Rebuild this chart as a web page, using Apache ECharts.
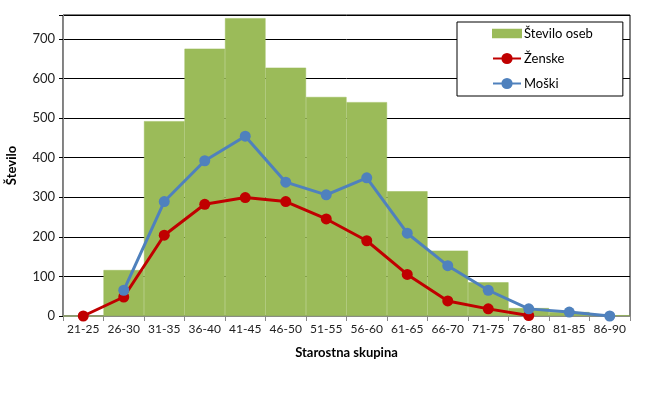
<!DOCTYPE html>
<html>
<head>
<meta charset="utf-8">
<script src="https://cdn.jsdelivr.net/npm/echarts@6/dist/echarts.min.js"></script>
<style>
  html, body { margin: 0; padding: 0; background: #fff; }
  #chart { width: 645px; height: 397px; }
</style>
</head>
<body>
<div id="chart"></div>
<script>
const categories = ["21-25", "26-30", "31-35", "36-40", "41-45", "46-50", "51-55",
  "56-60", "61-65", "66-70", "71-75", "76-80", "81-85", "86-90"];
const steviloOseb = [0, 116, 492, 675, 752, 627, 553, 540, 315, 165, 85, 20, 10, 2];
const zenske = [0, 48, 204, 282, 299, 289, 245, 190, 105, 38, 18, 1, "-", "-"];
const moski = ["-", 65, 289, 392, 454, 338, 306, 349, 209, 127, 65, 18, 10, 0];

const chart = echarts.init(document.getElementById("chart"));
const font = "Lato";

const option = {
  animation: false,
  textStyle: { fontFamily: font },
  grid: {
    left: 63,
    right: 15,
    top: 15,
    bottom: 81,
    outerBoundsMode: "none",
    show: true,
    borderColor: "#000",
    borderWidth: 1,
  },
  legend: {
    orient: "vertical",
    left: 457,
    top: 22,
    padding: [5, 30, 6, 35],
    itemWidth: 28,
    itemHeight: 14,
    itemGap: 12,
    backgroundColor: "#fff",
    borderColor: "#000",
    borderWidth: 1,
    textStyle: { color: "#000", fontSize: 13, fontFamily: font, padding: [0, 0, 0, -2] },
    data: [
      { name: "Število oseb", icon: "path://M0,0h26v7h-26z" },
      { name: "Ženske" },
      { name: "Moški" },
    ],
  },
  xAxis: {
    type: "category",
    data: categories,
    boundaryGap: true,
    name: "Starostna skupina",
    nameLocation: "middle",
    nameGap: 30,
    nameTextStyle: { fontWeight: "bold", color: "#000", fontSize: 13 },
    axisLine: { lineStyle: { color: "#888", width: 1 } },
    axisTick: { show: true, length: 5, lineStyle: { color: "#888" } },
    axisLabel: { color: "#222", fontSize: 12, margin: 7, interval: 0 },
  },
  yAxis: {
    type: "value",
    min: 0,
    max: 760,
    interval: 100,
    name: "Število",
    nameLocation: "middle",
    nameGap: 45,
    nameTextStyle: { fontWeight: "bold", color: "#000", fontSize: 13 },
    axisLine: { show: true, lineStyle: { color: "#888" } },
    axisTick: { show: true, length: 4, lineStyle: { color: "#000" } },
    axisLabel: {
      color: "#222",
      fontSize: 13,
      margin: 8,
      formatter: (v) => (v % 100 === 0 ? v : ""),
    },
    splitLine: { lineStyle: { color: "#000", width: 1 } },
  },
  series: [
    {
      name: "Število oseb",
      type: "bar",
      data: steviloOseb,
      barCategoryGap: "0%",
      itemStyle: { color: "#9BBB59", borderColor: "#9BBB59", borderWidth: 0.5 },
    },
    {
      name: "Ženske",
      type: "line",
      data: zenske,
      symbol: "circle",
      symbolSize: 11,
      lineStyle: { color: "#C00000", width: 3 },
      itemStyle: { color: "#C00000" },
    },
    {
      name: "Moški",
      type: "line",
      data: moski,
      symbol: "circle",
      symbolSize: 11,
      lineStyle: { color: "#4F81BD", width: 3 },
      itemStyle: { color: "#4F81BD" },
    },
  ],
};

chart.setOption(option);
</script>
</body>
</html>
